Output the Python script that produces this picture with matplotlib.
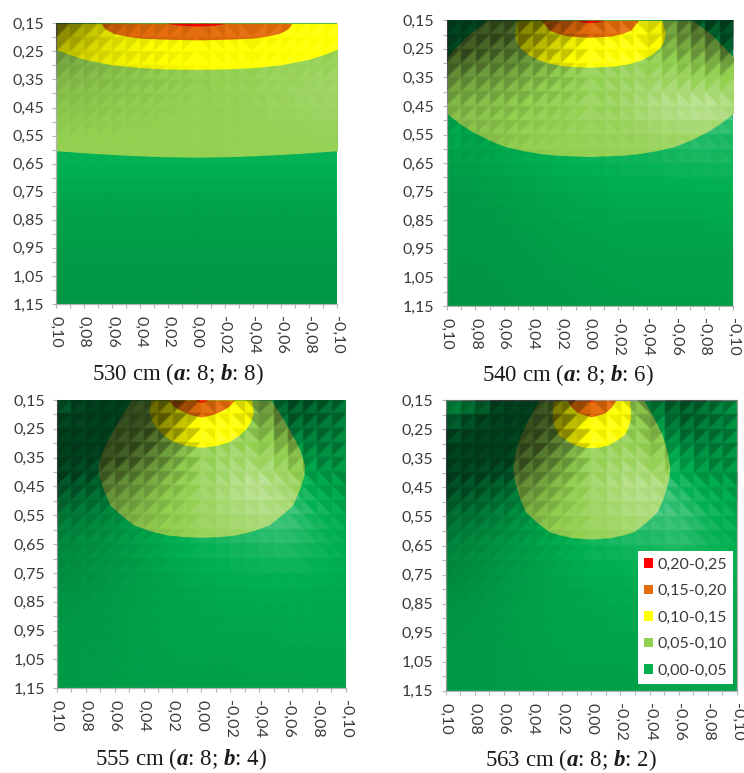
import numpy as np
import matplotlib
matplotlib.use("Agg")
import matplotlib.pyplot as plt
from matplotlib.colors import LinearSegmentedColormap
from matplotlib.patches import Patch

plt.rcParams['font.family'] = ['Lato', 'DejaVu Sans']
plt.rcParams['mathtext.fontset'] = 'custom'
plt.rcParams['mathtext.rm'] = 'Liberation Serif'
plt.rcParams['mathtext.it'] = 'Liberation Serif:italic'
plt.rcParams['mathtext.bf'] = 'Liberation Serif:bold'
plt.rcParams['mathtext.bfit'] = 'Liberation Serif:italic:bold'

W, H = 744, 773

# ---- data ----
captions = [r"530 cm ($\mathbfit{a}$: 8; $\mathbfit{b}$: 8)",
            r"540 cm ($\mathbfit{a}$: 8; $\mathbfit{b}$: 6)",
            r"555 cm ($\mathbfit{a}$: 8; $\mathbfit{b}$: 4)",
            r"563 cm ($\mathbfit{a}$: 8; $\mathbfit{b}$: 2)"]
band_labels = ["0,20-0,25", "0,15-0,20", "0,10-0,15", "0,05-0,10", "0,00-0,05"]
band_colors = ["#FF0000", "#E46C0A", "#FFFF00", "#92D050", "#00B050"]
x_ticks = [0.10, 0.08, 0.06, 0.04, 0.02, 0.00, -0.02, -0.04, -0.06, -0.08, -0.10]
y_ticks = [0.15, 0.25, 0.35, 0.45, 0.55, 0.65, 0.75, 0.85, 0.95, 1.05, 1.15]
x_labels = ["0,10", "0,08", "0,06", "0,04", "0,02", "0,00", "-0,02", "-0,04", "-0,06", "-0,08", "-0,10"]
y_labels = ["0,15", "0,25", "0,35", "0,45", "0,55", "0,65", "0,75", "0,85", "0,95", "1,05", "1,15"]

# contour half-widths: (depth list, half-width list) for levels 0.05, 0.10, 0.15, 0.20
p1_c05 = ([0.15, 0.600, 0.604, 0.613, 0.620, 0.625, 0.627], [0.14, 0.14, 0.100, 0.075, 0.050, 0.025, 0.0])
p1_c10 = ([0.15, 0.243, 0.262, 0.278, 0.298, 0.308, 0.313, 0.314], [0.14, 0.100, 0.090, 0.080, 0.060, 0.040, 0.020, 0.0])
p1_c15 = ([0.15, 0.170, 0.186, 0.196, 0.203, 0.207, 0.209], [0.068, 0.065, 0.059, 0.050, 0.040, 0.020, 0.0])
p1_c20 = ([0.15, 0.157, 0.1595], [0.021, 0.012, 0.0])

p2_c05 = ([0.15, 0.20, 0.277, 0.37, 0.476, 0.515, 0.54, 0.570, 0.592, 0.606, 0.6156, 0.622, 0.627],
          [0.0717, 0.085, 0.100, 0.112, 0.100, 0.090, 0.082, 0.070, 0.059, 0.047, 0.0356, 0.024, 0.0])
p2_c10 = ([0.15, 0.195, 0.225, 0.248, 0.270, 0.289, 0.302, 0.31, 0.3145],
          [0.0505, 0.0526, 0.0515, 0.0484, 0.043, 0.0356, 0.027, 0.017, 0.0])
p2_c15 = ([0.15, 0.184, 0.196, 0.205, 0.2095], [0.034, 0.0286, 0.0225, 0.0147, 0.0])
p2_c20 = ([0.15, 0.155, 0.158], [0.0098, 0.006, 0.0])

p3_c05 = ([0.15, 0.2136, 0.271, 0.325, 0.375, 0.41, 0.46, 0.514, 0.545, 0.583, 0.603, 0.618, 0.624, 0.626],
          [0.0485, 0.0564, 0.063, 0.0685, 0.0714, 0.0711, 0.068, 0.0633, 0.0565, 0.047, 0.036, 0.024, 0.012, 0.0])
p3_c10 = ([0.15, 0.196, 0.225, 0.248, 0.272, 0.2945, 0.308, 0.314],
          [0.035, 0.036, 0.034, 0.031, 0.026, 0.0194, 0.010, 0.0])
p3_c15 = ([0.15, 0.170, 0.185, 0.200, 0.209], [0.0229, 0.0195, 0.0148, 0.008, 0.0])
p3_c20 = ([0.15, 0.158], [0.0047, 0.0])

p4_c05 = ([0.15, 0.212, 0.269, 0.325, 0.3785, 0.41, 0.4416, 0.49, 0.533, 0.568, 0.602, 0.613, 0.623, 0.6276],
          [0.036, 0.043, 0.0487, 0.052, 0.0538, 0.0535, 0.052, 0.049, 0.0453, 0.038, 0.0293, 0.022, 0.0133, 0.0])
p4_c10 = ([0.15, 0.212, 0.245, 0.269, 0.288, 0.304, 0.311, 0.313],
          [0.0263, 0.027, 0.025, 0.0224, 0.017, 0.011, 0.0055, 0.0])
p4_c15 = ([0.15, 0.175, 0.195, 0.207], [0.0167, 0.0135, 0.0087, 0.0])
p4_c20 = ([0.15, 0.1546], [0.0023, 0.0])

contours = [[p1_c05, p1_c10, p1_c15, p1_c20], [p2_c05, p2_c10, p2_c15, p2_c20],
            [p3_c05, p3_c10, p3_c15, p3_c20], [p4_c05, p4_c10, p4_c15, p4_c20]]

# surface lighting read at each tick crossing (rows: depth, columns: x); <0 dark, >0 light
p1_light = [[-.70, -.40, -.15, -.05, -.02, -.05, 0, 0, .02, .03, .03],
            [-.30, -.20, -.12, -.07, -.03, 0, 0, 0, 0, .03, .03],
            [-.12, -.10, -.08, -.05, -.02, 0, .03, .05, .08, .10, .12],
            [-.05, -.05, -.03, -.02, 0, .02, .03, .05, .08, .10, .12],
            [0, 0, 0, .01, .02, .02, .03, .04, .04, .05, .05],
            [.02, .02, .02, .02, .02, .02, .02, .02, .02, .02, .02],
            [-.05, -.05, -.05, -.05, -.05, -.05, -.05, -.05, -.05, -.05, -.05],
            [-.09, -.09, -.09, -.09, -.09, -.09, -.09, -.09, -.09, -.09, -.09],
            [-.11, -.11, -.11, -.11, -.11, -.11, -.11, -.11, -.11, -.11, -.11],
            [-.13, -.13, -.13, -.13, -.13, -.13, -.13, -.13, -.13, -.13, -.13],
            [-.15, -.15, -.15, -.15, -.15, -.15, -.15, -.15, -.15, -.15, -.15]]
p2_light = [[-.72, -.72, -.70, -.60, -.35, -.10, 0, -.05, -.40, -.60, -.70],
            [-.72, -.60, -.50, -.40, -.20, 0, .05, 0, -.20, -.30, -.55],
            [-.35, -.30, -.25, -.15, -.05, .05, .10, .15, .10, .05, 0],
            [-.15, -.12, -.08, -.03, .02, .08, .12, .25, .35, .40, .30],
            [-.05, -.10, -.05, 0, .03, .05, .08, .10, .15, .15, .12],
            [-.10, -.08, -.05, -.03, 0, .02, .04, .05, .07, .08, .08],
            [-.14, -.12, -.10, -.08, -.06, -.04, -.03, -.03, -.02, -.01, -.01],
            [-.14, -.13, -.12, -.10, -.08, -.07, -.06, -.06, -.06, -.05, -.05],
            [-.14, -.14, -.13, -.12, -.10, -.09, -.08, -.08, -.08, -.08, -.08],
            [-.15, -.15, -.14, -.13, -.12, -.11, -.10, -.09, -.09, -.09, -.09],
            [-.16, -.16, -.15, -.14, -.13, -.12, -.12, -.11, -.11, -.11, -.11]]
p3_light = [[-.45, -.72, -.72, -.72, -.60, -.10, 0, -.30, -.55, -.50, -.40],
            [-.72, -.72, -.72, -.70, -.45, 0, .05, -.05, -.40, -.40, -.30],
            [-.72, -.72, -.68, -.50, -.25, .05, .15, .15, -.05, -.25, -.22],
            [-.55, -.50, -.40, -.25, -.08, .10, .28, .40, .20, -.05, -.12],
            [-.35, -.30, -.22, -.12, -.02, .10, .20, .28, .25, .08, -.03],
            [-.22, -.20, -.15, -.08, -.02, .04, .08, .12, .15, .06, 0],
            [-.20, -.18, -.14, -.10, -.06, -.03, 0, .02, .03, .01, -.02],
            [-.16, -.14, -.12, -.09, -.07, -.06, -.04, -.04, -.04, -.04, -.04],
            [-.14, -.13, -.12, -.09, -.07, -.07, -.06, -.06, -.05, -.05, -.05],
            [-.13, -.12, -.11, -.10, -.08, -.08, -.08, -.07, -.07, -.07, -.07],
            [-.13, -.12, -.11, -.10, -.10, -.09, -.09, -.09, -.09, -.08, -.08]]
p4_light = [[-.20, -.35, -.72, -.72, -.60, -.10, 0, -.35, -.55, -.40, -.20],
            [-.55, -.72, -.72, -.72, -.50, 0, .05, -.05, -.40, -.35, -.25],
            [-.72, -.72, -.72, -.55, -.30, .05, .15, .10, -.10, -.25, -.20],
            [-.60, -.55, -.45, -.30, -.10, .10, .30, .35, .12, -.05, -.10],
            [-.40, -.35, -.25, -.15, -.02, .10, .20, .25, .25, .08, -.02],
            [-.25, -.22, -.15, -.10, -.03, .04, .08, .10, .15, .06, 0],
            [-.22, -.19, -.14, -.10, -.06, -.03, -.01, .01, .03, .01, -.02],
            [-.17, -.15, -.12, -.09, -.07, -.06, -.04, -.04, -.04, -.04, -.04],
            [-.15, -.14, -.12, -.09, -.07, -.07, -.06, -.06, -.05, -.05, -.05],
            [-.14, -.13, -.12, -.10, -.08, -.08, -.08, -.07, -.07, -.07, -.07],
            [-.14, -.13, -.12, -.11, -.10, -.09, -.09, -.09, -.09, -.08, -.08]]
lights = [p1_light, p2_light, p3_light, p4_light]

# facet contrast per depth row
p1_facet = [.14, .10, .07, .045, .025, .005, 0, 0, 0, 0, 0]
p2_facet = [.22, .22, .18, .15, .09, .03, .015, .008, .004, 0, 0]
p3_facet = [.22, .24, .22, .17, .11, .06, .03, .015, .01, .005, .005]
p4_facet = [.22, .24, .22, .17, .11, .06, .03, .015, .01, .005, .005]
facets = [p1_facet, p2_facet, p3_facet, p4_facet]

# axes rectangles in pixels: left, right, top, bottom
boxes = [(56, 337, 23.3, 304), (446.7, 733, 20.3, 306), (57, 345.7, 400, 688.3), (445.7, 737, 400.3, 690.7)]
caption_pos = [(178, 374), (567.7, 375), (181, 759), (571, 760.5)]

light_cmap = LinearSegmentedColormap.from_list(
    "light", [(0, (0, 0, 0, 1)), (.5, (0, 0, 0, 0)), (.5, (1, 1, 1, 0)), (1, (1, 1, 1, 1))], N=512)

fig = plt.figure(figsize=(W / 100, H / 100), dpi=100, facecolor="white")


def facet_image(light, facet, nw, nh):
    """Per-triangle lighting sampled on the pixels of one plot (cells: 0.01 by 0.05)."""
    L, F = np.array(light), np.array(facet)
    U, V = np.meshgrid((np.arange(nw) + .5) / nw * 20, (np.arange(nh) + .5) / nh * 20)
    i, j = U.astype(int), V.astype(int)
    fu, fv = U - i, V - j
    slash = (i < 10) | ((i >= 14) & (j < 5))
    upper = np.where(slash, fu + fv < 1, fu > fv)
    cu = np.where(slash, np.where(upper, .33, .67), np.where(upper, .67, .33)) + i
    cv = np.where(upper, .33, .67) + j
    u, v = cu / 2, cv / 2
    iu, iv = np.minimum(u.astype(int), 9), np.minimum(v.astype(int), 9)
    gu, gv = u - iu, v - iv
    s = (L[iv, iu] * (1 - gu) * (1 - gv) + L[iv, iu + 1] * gu * (1 - gv)
         + L[iv + 1, iu] * (1 - gu) * gv + L[iv + 1, iu + 1] * gu * gv)
    amp = F[iv] * (1 - gv) + F[iv + 1] * gv
    s = np.maximum(s + np.where(upper, -1, 1) * amp * .4, -.68)
    # slight softening
    kernel = np.array([1, 2, 1]) / 4
    pad = np.pad(s, 1, mode="edge")
    pad = np.apply_along_axis(lambda a: np.convolve(a, kernel, mode="same"), 0, pad)
    pad = np.apply_along_axis(lambda a: np.convolve(a, kernel, mode="same"), 1, pad)
    return pad[1:-1, 1:-1]


for k, (l, r, t, b) in enumerate(boxes):
    ax = fig.add_axes([l / W, 1 - b / H, (r - l) / W, (b - t) / H])
    ax.set_facecolor(band_colors[4])
    for lvl, (ys, ws) in enumerate(contours[k]):
        ys, ws = np.array(ys), np.array(ws)
        ax.fill_betweenx(ys, -ws, ws, color=band_colors[3 - lvl], lw=0, zorder=1 + lvl)
    img = facet_image(lights[k], facets[k], int(round(r - l)), int(round(b - t)))
    ax.imshow(img, extent=(x_ticks[0], x_ticks[-1], y_ticks[-1], y_ticks[0]), cmap=light_cmap,
              vmin=-1, vmax=1, aspect="auto", interpolation="nearest", zorder=6)
    ax.set_xlim(x_ticks[0], x_ticks[-1])
    ax.set_ylim(y_ticks[-1], y_ticks[0])
    ax.set_xticks(x_ticks)
    ax.set_xticklabels(x_labels, rotation=270, ha="center", va="top")
    ax.set_xticks(np.array(x_ticks[:-1]) - 0.01, minor=True)
    ax.set_yticks(y_ticks)
    ax.set_yticklabels(y_labels)
    ax.set_yticks(np.array(y_ticks[:-1]) + 0.05, minor=True)
    ax.tick_params(which="both", length=3.2, width=0.8, color="#b5b5b5",
                   labelsize=11.5, labelcolor="#3a3a3a")
    ax.tick_params(axis="both", which="major", pad=5.5)
    for side in ("top", "right"):
        ax.spines[side].set_visible(k == 3)
        ax.spines[side].set_color("#b5b5b5")
        ax.spines[side].set_linewidth(0.9)
    for side in ("left", "bottom"):
        ax.spines[side].set_color("#b5b5b5")
        ax.spines[side].set_linewidth(0.9)
    cx, cy = caption_pos[k]
    fig.text(cx / W, 1 - cy / H, captions[k], ha="center", va="center",
             fontsize=16.5, family="Liberation Serif", color="#1a1a1a")
    if k == 3:
        handles = [Patch(facecolor=c, edgecolor="none") for c in band_colors]
        leg = ax.legend(handles, band_labels, loc="lower left",
                        bbox_to_anchor=((638 - l) / (r - l), (b - 684) / (b - t)),
                        frameon=True, fancybox=False, framealpha=1,
                        facecolor="white", edgecolor="none", fontsize=11.5,
                        labelcolor="#3a3a3a", handlelength=0.55, handleheight=0.55,
                        handletextpad=0.28, labelspacing=0.79, borderpad=0.38,
                        borderaxespad=0)
        leg.set_zorder(10)

fig.savefig("out.png", dpi=100)
